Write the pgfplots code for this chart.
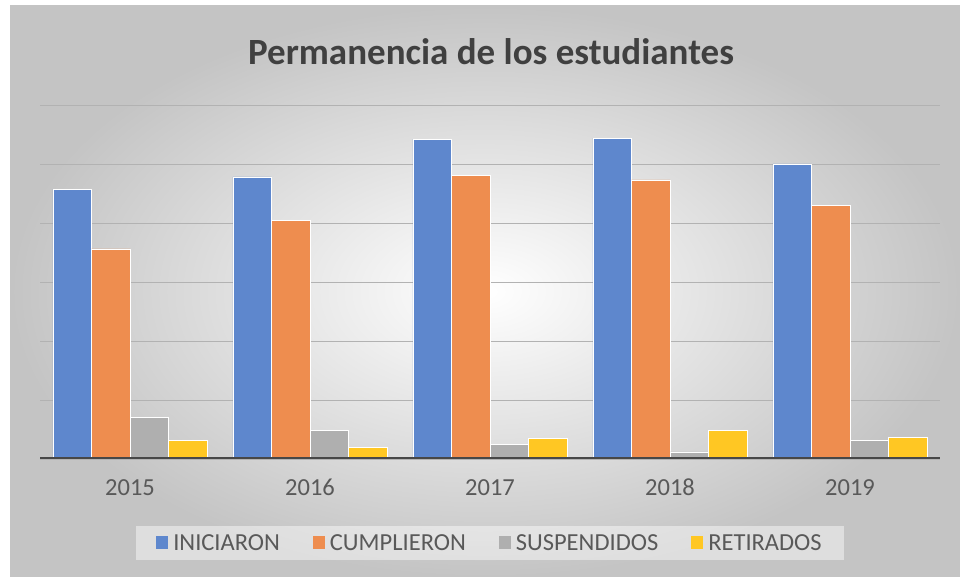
\documentclass[border=0pt]{standalone}
\usepackage{pgfplots}
\pgfplotsset{compat=1.18}
\usepackage{fontspec}
\setmainfont{Carlito}
\definecolor{cblue}{HTML}{5E87CD}
\definecolor{corange}{HTML}{EE8D4F}
\definecolor{cgray}{HTML}{AFAFAF}
\definecolor{cyellow}{HTML}{FFC723}
\definecolor{ctext}{HTML}{595959}
\definecolor{ctitle}{HTML}{404040}
\definecolor{cbg}{HTML}{C4C4C4}
\begin{document}
\begin{tikzpicture}[x=1pt,y=1pt]
\fill[white] (0,0) rectangle (960,577);
\shade[inner color=white, outer color=cbg] (10,0) rectangle (960,571);
\useasboundingbox (0,0) rectangle (960,577);
\node[font=\fontsize{37}{42}\selectfont\bfseries, text=ctitle] at (491,525) {Permanencia de los estudiantes};
\begin{axis}[
  at={(40pt,118pt)}, anchor=south west,
  scale only axis, width=900pt, height=354pt,
  ymin=0, ymax=6, xmin=-0.5, xmax=4.5,
  ybar=0pt, bar width=0.214,
  axis line style={draw=none},
  xtick=data, xticklabels={2015,2016,2017,2018,2019},
  ytick={0,1,2,3,4,5,6}, yticklabels={},
  ymajorgrids, major grid style={draw=black!30, line width=0.8pt},
  major tick length=0pt,
  /pgf/number format/assume math mode=true,
  tick label style={font=\fontsize{24.5}{28}\selectfont, text=ctext},
  xticklabel style={anchor=north, text height=16pt, text depth=0pt, yshift=-17pt},
  legend columns=4,
  legend style={at={(0.5,-0.237)}, anchor=center, fill=white, fill opacity=0.45, text opacity=1, draw=none,
    font=\fontsize{24.5}{28}\selectfont, text=ctext, inner xsep=20pt, inner ysep=6pt,
    /tikz/every odd column/.append style={column sep=3pt},
    /tikz/every even column/.append style={column sep=31pt}},
  legend image code/.code={\fill[#1, draw=none, fill opacity=1] (0pt,-6.5pt) rectangle (12pt,6.5pt);},
  every axis plot/.append style={draw=white, line width=0.8pt},
]
\addplot[fill=cblue] coordinates {(0,4.57) (1,4.78) (2,5.42) (3,5.44) (4,5.00)};
\addplot[fill=corange] coordinates {(0,3.56) (1,4.05) (2,4.80) (3,4.73) (4,4.29)};
\addplot[fill=cgray] coordinates {(0,0.71) (1,0.49) (2,0.25) (3,0.12) (4,0.32)};
\addplot[fill=cyellow] coordinates {(0,0.32) (1,0.20) (2,0.35) (3,0.49) (4,0.36)};
\legend{INICIARON, CUMPLIERON, SUSPENDIDOS, RETIRADOS}
\draw[line width=3pt, draw=black!72] (rel axis cs:0,0) -- (rel axis cs:1,0);
\end{axis}
\end{tikzpicture}
\end{document}
